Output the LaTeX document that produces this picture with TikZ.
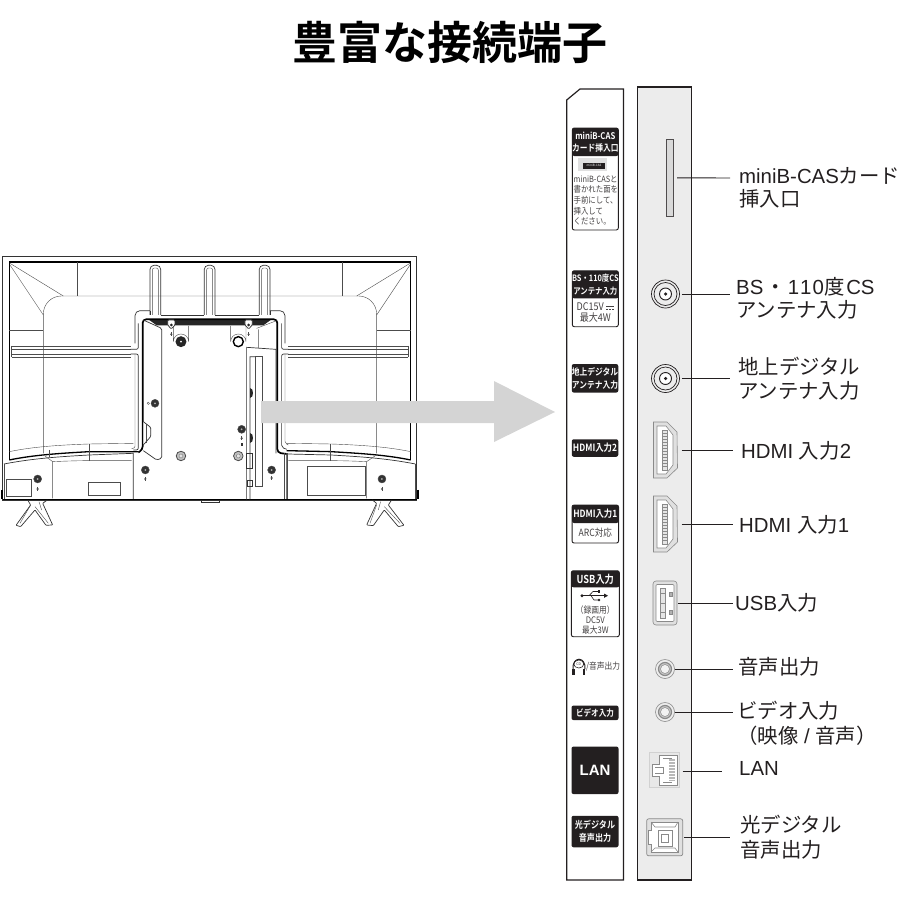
\documentclass[tikz,border=0pt]{standalone}
\usepackage{fontspec}
\setmainfont{Noto Sans CJK JP}[BoldFont={Noto Sans CJK JP Bold}]
\newfontfamily\lat{Liberation Sans}
\newfontfamily\tagbold{Noto Sans CJK JP Bold}[FakeStretch=0.84]
\newfontfamily\tagreg{Noto Sans CJK JP}[FakeStretch=0.86]
\usetikzlibrary{calc}
\definecolor{panelgray}{HTML}{ECECEC}
\definecolor{arrowgray}{HTML}{D4D4D4}
\definecolor{ink}{HTML}{231F20}
\definecolor{portline}{HTML}{8A8A8A}
\newcommand{\fs}[2]{\fontsize{#1}{#2}\selectfont}
\tikzset{
  lab/.style={anchor=west,inner sep=0pt,align=left,text=ink,font=\fs{20.4}{24.5}},
  conn/.style={draw=ink,line width=0.9pt},
  panelline/.style={draw=ink,line width=1.2pt},
  tagbox/.style={draw=ink,line width=0.9pt,fill=white,rounded corners=2pt,inner sep=0pt},
  taghead/.style={fill=ink,text=white,rounded corners=2pt,inner sep=0pt,align=center,font=\tagbold\fs{9.2}{12.4}},
  tagtext/.style={text=ink!85,inner sep=0pt,align=center,font=\tagreg\fs{9}{10.5}},
  tvthin/.style={draw=black!70,line width=0.4pt},
  tvmid/.style={draw=black!80,line width=0.7pt},
  tvthick/.style={draw=black,line width=1.3pt},
  port/.style={draw=portline,line width=0.6pt},
  portbox/.style={inner sep=0pt},
  screwdark/.style={circle,fill=black!85,inner sep=0pt,minimum size=#1},
}
\begin{document}
\begin{tikzpicture}[x=1pt,y=-1pt]
\useasboundingbox (0,0) rectangle (900,900);
\node[text=black,inner sep=0pt,font=\bfseries\fs{45}{45}] (title) at (450,42) {豊富な接続端子};

% ---------- TV ----------
\begin{scope}[shift={(0,240)},x=0.3333pt,y=-0.3333pt]
\draw[tvmid] (8,50) rectangle (1250,780);
\draw[tvthick] (28,660) -- (28,66) -- (1232,66) -- (1232,660);
\draw[tvthin] (30,70) -- (190,168) (30,75) -- (130,225) (1230,70) -- (1070,168) (1230,75) -- (1130,225);
\draw[tvthin,rounded corners=18pt] (130,640) -- (130,168) -- (1130,168) -- (1130,640);
\draw[tvthin] (233,66) -- (233,168) (1027,66) -- (1027,168) (28,270) -- (130,270) (1130,270) -- (1232,270);
\foreach \ya in {318,328,342,352}{
  \draw[tvthin] (35,\ya) -- (392,\ya) (865,\ya) -- (1225,\ya);
}
\draw[tvthin] (35,318) -- (35,352) (1225,318) -- (1225,352);
\foreach \xa in {450,613,778}{
  \draw[tvmid,rounded corners=4pt] ($(\xa,225)$) -- ($(\xa,76)$) -- ($(\xa+32,76)$) -- ($(\xa+32,225)$);
  \draw[tvthin,rounded corners=2pt] ($(\xa+7,225)$) -- ($(\xa+7,84)$) -- ($(\xa+25,84)$) -- ($(\xa+25,225)$);
}
% centre recess
\draw[tvmid,rounded corners=5pt] (405,310) -- (405,212) -- (450,212);
\draw[tvmid] (450,212) -- (450,225) (482,225) -- (613,225) (645,225) -- (778,225) (810,225) -- (810,212);
\draw[tvmid,rounded corners=5pt] (810,212) -- (855,212) -- (855,310);
\draw[tvmid,rounded corners=2pt] (392,328) -- (415,328) -- (415,250);
\draw[tvmid,rounded corners=2pt] (392,342) -- (415,342) -- (415,630) -- (400,630);
\draw[tvmid,rounded corners=2pt] (865,328) -- (845,328) -- (845,250);
\draw[tvmid,rounded corners=2pt] (865,342) -- (845,342) -- (845,622) -- (860,628);
\draw[tvthin,rounded corners=2pt] (405,342) -- (405,625) -- (395,625);
\draw[tvthin,rounded corners=2pt] (855,342) -- (855,610) -- (865,615);
\fill[black!85] (445,238) -- (815,238) -- (790,256) -- (470,256) -- cycle;
\draw[tvthick,line width=1.7pt,rounded corners=3.5pt] (415,637) -- (428,630) -- (428,238) -- (832,238) -- (832,638) -- (860,642);
\draw[tvmid,rounded corners=1.5pt] (430,240) -- (485,265) -- (485,655) -- (470,660) -- (430,632);
\draw[tvthin] (770,265) -- (830,242) (775,268) -- (775,325);
% mount lobes
\draw[tvthin] (520,258) -- (520,305) arc[start angle=180,end angle=360,radius=23] -- (566,258);
\draw[tvthin] (692,258) -- (692,305) arc[start angle=180,end angle=360,radius=23] -- (738,258);
\node[screwdark=11pt] (s1) at (543,305) {};
\node[circle,fill=white,inner sep=0pt,minimum size=2pt] at (543,305) {};
\node[circle,draw=black,line width=1.4pt,fill=white,inner sep=0pt,minimum size=10pt] (s2) at (715,305) {};
\draw[tvmid,fill=white,rounded corners=1pt] (503,240) -- (525,240) -- (525,255) -- (514,267) -- (503,255) -- cycle;
\draw[tvmid,fill=white,rounded corners=1pt] (735,240) -- (757,240) -- (757,255) -- (746,267) -- (735,255) -- cycle;
\node[screwdark=3pt] at (514,255) {};
\node[screwdark=3pt] at (746,255) {};
% screws
\foreach \sx/\sy in {465/490,436/690,815/690,113/717,1146/717,725/568}{
  \node[circle,draw=black!70,line width=0.4pt,fill=black!80,inner sep=0pt,minimum size=8pt] at (\sx,\sy) {};
  \node[circle,fill=black!30,inner sep=0pt,minimum size=2pt] at (\sx,\sy) {};
}
\foreach \sx/\sy in {436/717,815/714,113/747,1146/747,725/595,514/283,746/283}{
  \draw[tvthin] (\sx,\sy) circle[radius=0.9pt];
  \draw[tvthin] ($(\sx,\sy)+(0,-6)$) -- ($(\sx,\sy)+(0,6)$);
}
\fill[black!80] (722,608) rectangle (728,618);
\draw[tvthin] (445,490) circle[radius=1.2pt];
\foreach \sx/\sy in {543/648,715/648}{
  \node[circle,draw=black!70,line width=0.8pt,fill=black!25,inner sep=0pt,minimum size=9.5pt] at (\sx,\sy) {};
  \node[circle,draw=black!60,line width=0.3pt,fill=black!10,inner sep=0pt,minimum size=4pt] at (\sx,\sy) {};
}
% bump at left of recess
\draw[tvmid,fill=white,rounded corners=1pt] (430,545) -- (452,562) -- (452,590) -- (430,615);
\draw[tvthin] (438,552) -- (438,608);
% base
\draw[tvmid] (12,672) .. controls (100,655) and (180,650) .. (268,645) -- (400,640) -- (400,778);
\draw[tvmid] (1246,672) .. controls (1160,655) and (1080,650) .. (992,645) -- (860,642) -- (860,778);
\draw[tvthin] (28,635) .. controls (100,620) and (180,615) .. (268,612) -- (400,610);
\draw[tvthin] (1232,635) .. controls (1160,620) and (1080,615) .. (992,612) -- (860,610);
\draw[tvthick] (28,660) .. controls (100,645) and (180,640) .. (268,635) -- (415,635);
\draw[tvthick] (1232,660) .. controls (1160,645) and (1080,640) .. (992,635) -- (860,632);
\draw[tvthin] (268,612) -- (268,662) (992,612) -- (992,662) (148,630) -- (148,650);
\draw[tvthin] (12,672) -- (12,778) (1246,672) -- (1246,778);
\draw[tvthin] (135,648) -- (158,665) -- (158,775) (1125,648) -- (1100,665) -- (1100,775);
\draw[tvthin] (158,665) .. controls (200,663) and (240,662) .. (268,662) -- (395,662);
\draw[tvthin] (1100,665) .. controls (1060,663) and (1020,662) .. (992,662) -- (865,662);
\draw[tvthin] (20,718) rectangle (95,770) (264,728) rectangle (360,767) (922,680) rectangle (1095,767);
\draw[tvthick] (8,778) -- (1252,778);
\draw[tvthick] (6,750) -- (6,778) (1254,750) -- (1254,778);
\draw[tvmid] (603,780) rectangle (657,787);
% connector panel on set
\draw[tvmid,fill=white] (740,778) -- (740,322) -- (828,328) -- (828,640) (750,778) -- (750,350) -- (765,350);
\draw[tvthin] (765,350) rectangle (788,740);
\draw[tvthin] (852,640) -- (852,778) (862,640) -- (862,778);
\fill[black!85] (750,445) .. controls (762,445) and (762,475) .. (750,475) -- cycle;
\fill[black!85] (750,580) .. controls (762,580) and (762,610) .. (750,610) -- cycle;
\draw[tvmid] (740,640) rectangle (757,685) (742,722) rectangle (757,738);
% stands
\draw[tvmid,rounded corners=0.7pt] (83,780) -- (92,795) -- (48,856) -- (62,860) -- (105,810) -- (138,856) -- (158,855) -- (128,790) -- (142,780);
\draw[tvthin] (92,795) -- (60,850) (105,800) -- (145,850) (117,785) -- (125,810);
\draw[tvmid,rounded corners=0.7pt] (1117,780) -- (1130,790) -- (1100,855) -- (1120,857) -- (1153,810) -- (1195,860) -- (1212,856) -- (1165,795) -- (1175,780);
\draw[tvthin] (1130,795) -- (1110,850) (1153,800) -- (1200,850) (1142,785) -- (1135,810);
\end{scope}

% ---------- arrow ----------
\coordinate (arrowtail) at (261,412);
\coordinate (arrowtip) at (555,412);
\fill[arrowgray] ($(arrowtail)+(0,-11)$) -- (494,401) -- (494,381) -- (arrowtip) -- (494,442) -- (494,423) -- ($(arrowtail)+(0,11)$) -- cycle;

% ---------- panels ----------
\draw[panelline] (566.7,880) -- (566.7,100) -- (580,89) -- (623.5,89) -- (623.5,880) -- cycle;
\draw[panelline,fill=panelgray] (637.7,87) rectangle (691.7,880);

% ---------- printed tags ----------
\node[tagbox,minimum width=46pt,minimum height=102pt] (t1) at (595.3,179) {};
\node[taghead,minimum width=46pt,minimum height=28pt] (t1h) at (595.3,142) {miniB-CAS\\カード挿入口};
\fill[black!12] (578,158) rectangle (607,171);
\fill[ink] (583,163) rectangle (605,168.5);
\node[text=white,inner sep=0pt,font=\fs{3}{3}] (t1c) at (594,165.7) {miniB-CAS};
\node[tagtext,font=\tagreg\fs{8.6}{10.6},align=left,anchor=north west] (t1t) at (573.5,175.5) {miniB-CASと\\書かれた面を\\手前にして、\\挿入して\\ください。};

\node[tagbox,minimum width=46pt,minimum height=56pt] (t2) at (595.3,298.7) {};
\node[taghead,minimum width=46pt,minimum height=27.5pt,font=\tagbold\fs{8.8}{12.4}] (t2h) at (595.3,284.5) {BS・110度CS\\アンテナ入力};
\node[tagtext,font=\tagreg\fs{10.5}{11.5}] (t2t) at (595.3,312.5) {DC15V\hspace*{10pt}\\最大4W};
\draw[ink!85,line width=0.6pt] (606,306.4) -- (614,306.4);
\draw[ink!85,line width=0.6pt,dash pattern=on 1.8pt off 1.3pt] (606,309) -- (614,309);

\node[taghead,minimum width=46.5pt,minimum height=28.5pt] (t3) at (595,378.3) {地上デジタル\\アンテナ入力};
\node[taghead,minimum width=46.5pt,minimum height=17.5pt,font=\tagbold\fs{10}{12}] (t4) at (595,448) {HDMI入力2};

\node[tagbox,minimum width=46.5pt,minimum height=38pt] (t5) at (595.3,524) {};
\node[taghead,minimum width=46.5pt,minimum height=18pt,font=\tagbold\fs{10}{12}] (t5h) at (595.3,514) {HDMI入力1};
\node[tagtext,font=\tagreg\fs{10}{12}] (t5t) at (595.3,533) {ARC対応};

\node[tagbox,minimum width=48pt,minimum height=66pt] (t6) at (595.3,603.7) {};
\node[taghead,minimum width=48pt,minimum height=16.5pt,font=\tagbold\fs{11}{12}] (t6h) at (595.3,579) {USB入力};
\node[tagtext,font=\tagreg\fs{9}{10.2}] (t6t) at (595.3,619.8) {（録画用）\\DC5V\\最大3W};
% USB symbol
\draw[ink,line width=0.8pt] (583,595.7) -- (605,595.7);
\fill[ink] (582,595.7) circle[radius=1.6pt];
\fill[ink] (608,595.7) -- (604,593.5) -- (604,597.9) -- cycle;
\draw[ink,line width=0.6pt] (589,595.7) -- (593,591.5) -- (598,591.5) (591,595.7) -- (594,600) -- (598,600);
\fill[ink] (597.5,590.2) rectangle (600,592.8);
\fill[ink] (599,600) circle[radius=1.3pt];

% headphones
\draw[ink,line width=1pt] (573,669) .. controls (572,656) and (586,656) .. (585,669);
\draw[ink,line width=0.6pt] (578.8,664) ellipse[x radius=5pt,y radius=4pt];
\fill[ink] (572.3,669) rectangle (575,675);
\fill[ink] (582.6,669) rectangle (585.3,675);
\node[text=ink,inner sep=0pt,font=\fs{3.5}{4}] (t7i) at (578.8,664) {CD};
\node[tagtext,anchor=west,font=\tagreg\fs{9}{10}] (t7) at (586,667) {/音声出力};

\node[taghead,minimum width=47pt,minimum height=14.5pt,font=\tagbold\fs{9}{10}] (t8) at (595,712.8) {ビデオ入力};
\node[taghead,minimum width=47pt,minimum height=47.5pt,font=\bfseries\lat\fs{15}{15}] (t9) at (595,770.3) {LAN};
\node[taghead,minimum width=47pt,minimum height=31.5pt,font=\tagbold\fs{9.6}{13}] (t10) at (595,831.5) {光デジタル\\音声出力};

% ---------- ports ----------
\node[draw=ink!80,line width=0.7pt,fill=black!15,inner sep=0pt,minimum width=7pt,minimum height=77pt] (pcas) at (670.3,177.8) {};
\foreach \nm/\py in {pbs/294,pdt/378.5}{
  \node[circle,draw=ink,line width=0.7pt,fill=panelgray,inner sep=0pt,minimum size=28pt] (\nm) at (665.5,\py) {};
  \node[circle,draw=ink,line width=0.7pt,fill=panelgray,inner sep=0pt,minimum size=23pt] at (665.5,\py) {};
  \node[circle,draw=ink,line width=0.9pt,fill=white,inner sep=0pt,minimum size=12pt] at (665.5,\py) {};
  \node[circle,fill=ink,inner sep=0pt,minimum size=3.5pt] at (665.5,\py) {};
}
% HDMI
\foreach \nm/\py in {phb/450,pha/524}{
  \begin{scope}[shift={(0,\py)}]
  \node[portbox,minimum width=26pt,minimum height=56pt] (\nm) at (667.5,0) {};
  \draw[port,fill=black!12] (653.5,-28) -- (667,-28) -- (677,-18) -- (677.5,18) -- (667,28) -- (653.5,28) -- cycle;
  \draw[port,fill=white] (657,-24) -- (666,-24) -- (673,-15) -- (673,15) -- (666,24) -- (657,24) -- cycle;
  \draw[port,fill=black!10] (662,-20) rectangle (667,20);
  \foreach \ty in {-17,-14,-11,-8,-5,-2,1,4,7,10,13,16}{\draw[port,line width=0.35pt] (662,\ty) -- (667,\ty);}
  \end{scope}
}
% USB
\node[portbox,minimum width=26pt,minimum height=46pt] (pusb) at (665,603) {};
\draw[port,fill=black!12,rounded corners=3pt] (653,581) rectangle (677,625);
\draw[port,fill=white,rounded corners=1pt] (656,584.5) rectangle (674,621.5);
\draw[port,fill=black!10] (660,588) rectangle (665.5,618);
\foreach \ty in {593,603,612}{\draw[port,line width=0.35pt] (660,\ty) -- (665.5,\ty);}
\draw[port,fill=black!30] (669,592) rectangle (672,596) (669,610) rectangle (672,614);
% audio and video jacks
\foreach \nm/\py in {paud/669,pvid/712}{
  \node[circle,draw=portline,line width=0.6pt,fill=black!7,inner sep=0pt,minimum size=19pt] (\nm) at (665,\py) {};
  \node[circle,draw=portline,line width=1.2pt,fill=black!22,inner sep=0pt,minimum size=13pt] at (665,\py) {};
  \node[circle,draw=portline,line width=0.5pt,fill=black!5,inner sep=0pt,minimum size=9pt] at (665,\py) {};
}
% LAN
\node[draw=black!18,line width=0.6pt,fill=black!9,inner sep=0pt,minimum width=30pt,minimum height=35pt] (plan) at (664.7,769.7) {};
\draw[port,fill=white] (659,755) -- (677,755) -- (677,785) -- (659,785) -- (659,776) -- (652,776) -- (652,764) -- (659,764) -- cycle;
\draw[port] (655,767) -- (663,767) -- (663,773) -- (655,773) (663,758) -- (672,758) (663,782) -- (672,782);
\fill[black!28] (669,759) rectangle (675,781);
\foreach \ty in {761,764,767,770,773,776,779}{\draw[white,line width=0.5pt] (669,\ty) -- (675,\ty);}
% optical
\node[draw=portline,line width=0.7pt,fill=black!12,rounded corners=2pt,inner sep=0pt,minimum width=36pt,minimum height=37pt] (popt) at (664.7,837.3) {};
\draw[port,fill=white] (651,822) -- (678,822) -- (678,852) -- (651,852) -- (651,844) -- (648,844) -- (648,830) -- (651,830) -- cycle;
\draw[port] (658,830) rectangle (672,846);
\draw[port] (661,834) rectangle (668,842);
\draw[port] (651,822) -- (655,827) -- (675,827) -- (678,822);
\draw[port] (651,852) -- (655,848) -- (675,848) -- (678,852);

% ---------- connector ends ----------
\coordinate (e1) at (730,178);
\coordinate (e2) at (730,294);
\coordinate (e3) at (730,378.5);
\coordinate (e4) at (733,450);
\coordinate (e5) at (733,524);
\coordinate (e6) at (733,603);
\coordinate (e7) at (733,669);
\coordinate (e8) at (733,712);
\coordinate (e9) at (722,771.5);
\coordinate (e10) at (730,837.3);
\draw[conn] (pcas.east) ++(3,0) -- (e1);
\draw[conn] (pbs.east) ++(2,0) -- (e2);
\draw[conn] (pdt.east) ++(2,0) -- (e3);
\draw[conn] (phb.east) ++(1,0) -- (e4);
\draw[conn] (pha.east) ++(1,0) -- (e5);
\draw[conn] (pusb.east) -- (e6);
\draw[conn] (paud.east) -- (e7);
\draw[conn] (pvid.east) -- (e8);
\draw[conn] (plan.east) ++(2.5,1.8) -- (e9);
\draw[conn] (popt.east) ++(1,0) -- (e10);

% ---------- labels ----------
\node[lab,font=\fs{20.4}{22.5}] (l1) at (739,188) {{\lat miniB-CAS}カード\\挿入口};
\node[lab,font=\fs{20.4}{23}] (l2) at (736,298.5) {{\lat BS}\hspace{2pt}・\hspace{2pt}{\lat 1\hspace{1pt}1\hspace{1pt}0}\hspace{1pt}度\hspace{1pt}{\lat CS}\\アンテナ入力};
\node[lab] (l3) at (738,378.5) {地上デジタル\\アンテナ入力};
\node[lab] (l4) at (741,451) {{\lat HDMI }入力{\lat 2}};
\node[lab] (l5) at (739,524.5) {{\lat HDMI }入力{\lat 1}};
\node[lab] (l6) at (735,603) {{\lat USB}入力};
\node[lab] (l7) at (738,667) {音声出力};
\node[lab,anchor=north west] (l8) at (737,701) {ビデオ入力\\（映像{\lat\ /\ }音声）};
\node[lab] (l9) at (739,768.5) {{\lat LAN}};
\node[lab] (l10) at (740,837) {光デジタル\\音声出力};
\end{tikzpicture}
\end{document}
